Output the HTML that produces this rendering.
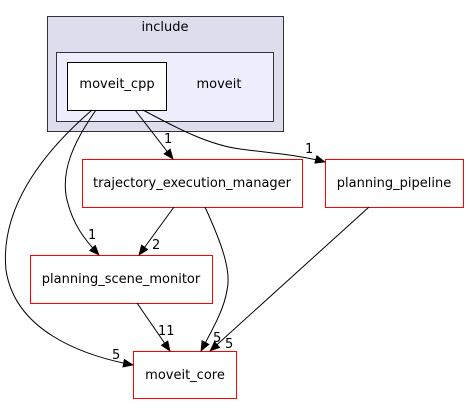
<!DOCTYPE html>
<html><head><style>
body{margin:0;background:#fff;}
svg text{font-family:"DejaVu Sans","Liberation Sans",sans-serif;font-size:13px;fill:#000;}
</style></head><body>
<svg width="469" height="404" viewBox="0 0 469 404" xmlns="http://www.w3.org/2000/svg">
<defs><marker id="a" markerWidth="11" markerHeight="9" refX="10" refY="4.5" orient="auto" markerUnits="userSpaceOnUse"><path d="M0,0 L11,4.5 L0,9 z" fill="#000"/></marker></defs>
<rect x="47.5" y="16.5" width="236" height="115" fill="#ddddee" stroke="#333"/>
<text x="165" y="31" text-anchor="middle">include</text>
<rect x="56.5" y="52.5" width="217" height="69" fill="#eeeeff" stroke="#333"/>
<text x="219" y="88" text-anchor="middle">moveit</text>
<rect x="67.5" y="62.5" width="99" height="48" fill="#fff" stroke="#000"/>
<text x="117" y="88" text-anchor="middle">moveit_cpp</text>
<rect x="82.5" y="159.5" width="220" height="48" fill="#fff" stroke="#ff0000"/>
<rect x="325.5" y="159.5" width="138" height="48" fill="#fff" stroke="#ff0000"/>
<rect x="30.5" y="255.5" width="182" height="48" fill="#fff" stroke="#ff0000"/>
<rect x="133.5" y="351.5" width="103" height="47" fill="#fff" stroke="#ff0000"/>
<text x="192" y="187" text-anchor="middle">trajectory_execution_manager</text>
<text x="394" y="187" text-anchor="middle">planning_pipeline</text>
<text x="121" y="283" text-anchor="middle">planning_scene_monitor</text>
<text x="185" y="379" text-anchor="middle">moveit_core</text>
<g fill="none" stroke="#000" marker-end="url(#a)">
<path d="M92,110 C40,155 0,210 6,270 C15,330 80,355 133,365"/>
<path d="M96,110 C75,140 60,170 67,200 C73,225 85,240 99,255"/>
<path d="M135,110 L173,159"/>
<path d="M143,110 C180,130 210,145 240,149 C270,153 300,155 325,162"/>
<path d="M174,207 L139,255"/>
<path d="M205,207 C220,240 232,270 227,290 C224,310 212,330 201,351"/>
<path d="M369,207 L210,351"/>
<path d="M137,303 L170,351"/>
</g>
<text x="164" y="143">1</text>
<text x="305" y="153">1</text>
<text x="88" y="239">1</text>
<text x="152" y="249">2</text>
<text x="158" y="335">11</text>
<text x="213" y="342">5</text>
<text x="225" y="348">5</text>
<text x="112" y="359">5</text>
</svg>
</body></html>
